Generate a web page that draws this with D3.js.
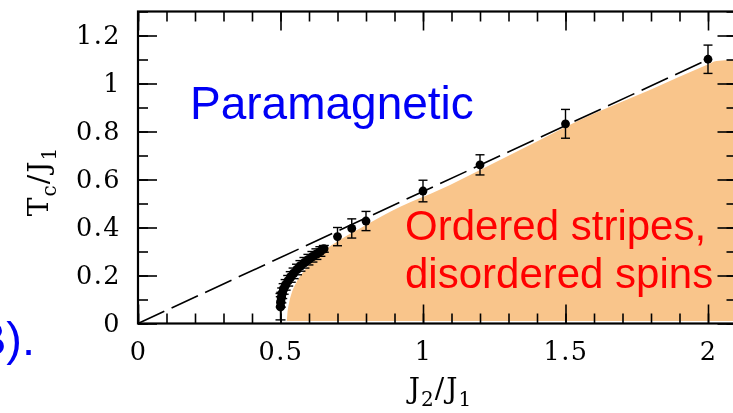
<!DOCTYPE html>
<html><head><meta charset="utf-8">
<script src="https://cdn.jsdelivr.net/npm/d3@7"></script>
<style>
html,body{margin:0;padding:0;background:#fff;}
svg{display:block;}
</style></head>
<body><svg id="chart" width="733" height="413"></svg>
<script>
// Monte Carlo transition temperatures with error bars
const mcJ   = [0.70, 0.75, 0.80, 1.00, 1.20, 1.50, 2.00];
const mcTc  = [0.362, 0.396, 0.427, 0.552, 0.661, 0.832, 1.101];
const mcErr = [0.038, 0.040, 0.040, 0.045, 0.042, 0.060, 0.059];

// dense scan close to J2/J1 = 1/2
const scanJ   = [0.500,0.501,0.503,0.506,0.511,0.518,0.527,0.536,0.546,0.558,0.570,0.584,0.598,0.612,0.626,0.640,0.652];
const scanTc  = [0.070,0.090,0.108,0.126,0.144,0.161,0.178,0.194,0.209,0.225,0.240,0.253,0.266,0.278,0.289,0.300,0.311];
const scanErr = [0.055,0.022,0.022,0.022,0.022,0.022,0.022,0.022,0.022,0.022,0.022,0.022,0.022,0.022,0.022,0.020,0.014];

// upper edge of the stripe-ordered region
const edgeJ  = [0.522,0.524,0.530,0.540,0.555,0.575,0.600,0.630,0.660,0.700,0.800,0.920,1.060,1.200,1.410,1.550,1.800,1.995,2.030,2.100];
const edgeTc = [0.010,0.040,0.085,0.130,0.170,0.207,0.243,0.278,0.310,0.342,0.410,0.486,0.558,0.640,0.765,0.848,0.975,1.077,1.094,1.098];

// straight guide line through the large-J2 points
const guideJ  = [0, 2.0];
const guideTc = [0, 1.1];

const xTicks = [0, 0.5, 1, 1.5, 2];
const xTickLabels = ["0", "0.5", "1", "1.5", "2"];
const yTicks = [0, 0.2, 0.4, 0.6, 0.8, 1.0, 1.2];
const yTickLabels = ["0", "0.2", "0.4", "0.6", "0.8", "1", "1.2"];

const svg = d3.select("#chart");
svg.append("rect").attr("width", 733).attr("height", 413).attr("fill", "#fff");

const x = d3.scaleLinear().domain([0, 2.1]).range([138, 736.5]);
const y = d3.scaleLinear().domain([0, 1.3]).range([323.5, 11.5]);

const serif = "'DejaVu Serif', serif";
const sans = "'Liberation Sans', Arial, sans-serif";

// ticks on all four sides, pointing inward
const minorX = d3.range(0, 2.101, 0.1).map(v => +v.toFixed(2));
const minorY = d3.range(0, 1.301, 0.1).map(v => +v.toFixed(2));

function styleAxis(g) {
  g.select(".domain").remove();
  g.selectAll(".tick line").attr("stroke", "#000").attr("stroke-width", 1.6);
}

svg.append("g").attr("transform", `translate(0,${y(0)})`)
  .call(d3.axisBottom(x).tickValues(minorX).tickSize(-10).tickFormat(""))
  .call(styleAxis);
const xMajor = svg.append("g").attr("transform", `translate(0,${y(0)})`)
  .call(d3.axisBottom(x).tickValues(xTicks).tickSize(-19).tickPadding(18)
    .tickFormat((d, i) => xTickLabels[i]))
  .call(styleAxis);
xMajor.selectAll("text").attr("font-family", serif).attr("font-size", 25.5)
  .style("letter-spacing", "1.5px").attr("fill", "#000");

svg.append("g").attr("transform", `translate(0,${y(1.3)})`)
  .call(d3.axisTop(x).tickValues(minorX).tickSize(-10).tickFormat(""))
  .call(styleAxis);
svg.append("g").attr("transform", `translate(0,${y(1.3)})`)
  .call(d3.axisTop(x).tickValues(xTicks).tickSize(-19).tickFormat(""))
  .call(styleAxis);

svg.append("g").attr("transform", `translate(${x(0)},0)`)
  .call(d3.axisLeft(y).tickValues(minorY).tickSize(-10).tickFormat(""))
  .call(styleAxis);
const yMajor = svg.append("g").attr("transform", `translate(${x(0)},0)`)
  .call(d3.axisLeft(y).tickValues(yTicks).tickSize(-19).tickPadding(17)
    .tickFormat((d, i) => yTickLabels[i]))
  .call(styleAxis);
yMajor.selectAll("text").attr("font-family", serif).attr("font-size", 25.5)
  .style("letter-spacing", "1.5px").attr("fill", "#000");

svg.append("g").attr("transform", `translate(${x(2.1)},0)`)
  .call(d3.axisRight(y).tickValues(minorY).tickSize(-10).tickFormat(""))
  .call(styleAxis);
svg.append("g").attr("transform", `translate(${x(2.1)},0)`)
  .call(d3.axisRight(y).tickValues(yTicks).tickSize(-19).tickFormat(""))
  .call(styleAxis);

// guide line
svg.append("path")
  .datum(guideJ.map((j, i) => [j, guideTc[i]]))
  .attr("d", d3.line().x(d => x(d[0])).y(d => y(d[1])))
  .attr("fill", "none").attr("stroke", "#000").attr("stroke-width", 1.6)
  .attr("stroke-dasharray", "29,8");

// data points with error bars
function drawPoints(js, ts, es, r, cap) {
  const g = svg.append("g");
  const pts = js.map((j, i) => ({ j, t: ts[i], e: es[i] }));
  pts.forEach(p => {
    const cx = x(p.j);
    g.append("line").attr("x1", cx).attr("x2", cx)
      .attr("y1", y(p.t - p.e)).attr("y2", y(p.t + p.e))
      .attr("stroke", "#000").attr("stroke-width", 1.4);
    [p.t - p.e, p.t + p.e].forEach(v => {
      g.append("line").attr("x1", cx - cap).attr("x2", cx + cap)
        .attr("y1", y(v)).attr("y2", y(v))
        .attr("stroke", "#000").attr("stroke-width", 1.4);
    });
  });
  g.selectAll("circle").data(pts).join("circle")
    .attr("cx", d => x(d.j)).attr("cy", d => y(d.t)).attr("r", r).attr("fill", "#000");
}
drawPoints(scanJ, scanTc, scanErr, 4.7, 5);
drawPoints(mcJ, mcTc, mcErr, 4.4, 4.5);

// stripe-ordered region, blended over the points beneath it
const edge = edgeJ.map((j, i) => [j, edgeTc[i]]);
const region = [[edgeJ[0], 0.01], ...edge, [edgeJ[edgeJ.length - 1], 0.01]];
svg.append("path")
  .datum(region)
  .attr("d", d3.line().x(d => x(d[0])).y(d => y(d[1])).curve(d3.curveMonotoneX))
  .attr("fill", "#f9c58b")
  .style("mix-blend-mode", "multiply");

// frame
svg.append("rect")
  .attr("x", x(0)).attr("y", y(1.3))
  .attr("width", x(2.1) - x(0)).attr("height", y(0) - y(1.3))
  .attr("fill", "none").attr("stroke", "#000").attr("stroke-width", 2.2);

// axis titles
const xt = svg.append("text").attr("x", 440).attr("y", 398)
  .attr("text-anchor", "middle").attr("font-family", serif).attr("font-size", 28).attr("fill", "#000");
xt.append("tspan").text("J");
xt.append("tspan").attr("font-size", 20).attr("dy", 8).attr("dx", 1).text("2");
xt.append("tspan").attr("dy", -8).attr("dx", 1).text("/");
xt.append("tspan").attr("dx", 2).text("J");
xt.append("tspan").attr("font-size", 20).attr("dy", 8).attr("dx", 1).text("1");

const yt = svg.append("text").attr("transform", "translate(48,182) rotate(-90)")
  .attr("text-anchor", "middle").attr("font-family", serif).attr("font-size", 28).attr("fill", "#000");
yt.append("tspan").text("T");
yt.append("tspan").attr("font-size", 20).attr("dy", 8).attr("dx", 1).text("c");
yt.append("tspan").attr("dy", -8).attr("dx", 1).text("/");
yt.append("tspan").attr("dx", 2).text("J");
yt.append("tspan").attr("font-size", 20).attr("dy", 8).attr("dx", 1).text("1");

// phase labels
svg.append("text").attr("x", 190).attr("y", 119)
  .attr("font-family", sans).attr("font-size", 46).attr("fill", "#0000f5")
  .text("Paramagnetic");
svg.append("text").attr("x", 405).attr("y", 240)
  .attr("font-family", sans).attr("font-size", 42).attr("fill", "#ff0000")
  .text("Ordered stripes,");
svg.append("text").attr("x", 405).attr("y", 288)
  .attr("font-family", sans).attr("font-size", 42).attr("fill", "#ff0000")
  .text("disordered spins");

// trailing part of the panel reference
svg.append("text").attr("x", 35).attr("y", 355).attr("text-anchor", "end")
  .attr("font-family", sans).attr("font-size", 47).attr("fill", "#0000f5")
  .text("(B).");
</script>
</body></html>
